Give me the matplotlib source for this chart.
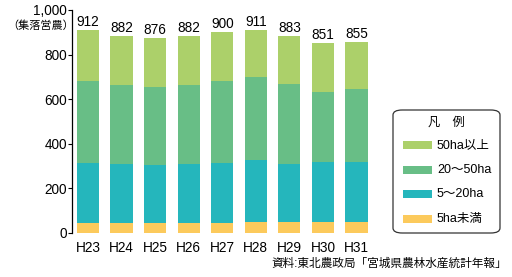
import numpy as np
import matplotlib.pyplot as plt
from matplotlib.patches import FancyBboxPatch, Rectangle

plt.rcParams['font.family'] = ['Liberation Sans', 'Noto Sans CJK JP']

years = ["H23", "H24", "H25", "H26", "H27", "H28", "H29", "H30", "H31"]
under5 = [45, 45, 45, 45, 45, 50, 50, 50, 50]
ha5_20 = [270, 265, 261, 265, 270, 278, 260, 269, 269]
ha20_50 = [368, 355, 350, 355, 365, 373, 360, 315, 325]
over50 = [229, 217, 220, 217, 220, 210, 213, 217, 211]
totals = [912, 882, 876, 882, 900, 911, 883, 851, 855]

labels = ["5ha未満", "5～20ha", "20～50ha", "50ha以上"]
colors = ["#fcca5c", "#25b6bc", "#68be86", "#acd06a"]

W, H = 512, 277
fig = plt.figure(figsize=(W / 100, H / 100), dpi=100, facecolor="white")
ax = fig.add_axes([0.1416, 0.159, 0.59, 0.805])

x = np.arange(len(years))
bottom = np.zeros(len(years))
for vals, col, lab in zip([under5, ha5_20, ha20_50, over50], colors, labels):
    ax.bar(x, vals, width=0.66, bottom=bottom, color=col, label=lab)
    bottom += np.array(vals)

for xi, t in zip(x, totals):
    ax.text(xi, t + 4, str(t), ha="center", va="bottom", fontsize=9.8)

ax.set_xlim(-0.46, 8.54)
ax.set_ylim(0, 1000)
ax.set_yticks([0, 200, 400, 600, 800, 1000])
ax.set_yticklabels(["0", "200", "400", "600", "800", "1,000"], fontsize=9.8)
ax.set_xticks(x)
ax.set_xticklabels(years, fontsize=9.8)
ax.tick_params(axis="x", length=0, pad=6)
ax.tick_params(axis="y", length=3, width=0.8, pad=1)
for s in ["top", "right", "bottom"]:
    ax.spines[s].set_visible(False)
ax.spines["left"].set_linewidth(0.9)

fig.text(0.014, 0.908, "（集落営農）", fontsize=8, ha="left", va="center")


# legend drawn in pixel positions of the reference
def fx(px):
    return px / W


def fy(py):
    return 1 - py / H


box = FancyBboxPatch((fx(393), fy(233)), fx(500) - fx(393), fy(110) - fy(233),
                     boxstyle="round,pad=0,rounding_size=0.018",
                     transform=fig.transFigure, facecolor="white",
                     edgecolor="#333333", linewidth=0.9)
fig.patches.append(box)
fig.text(fx(446), fy(123), "凡　例", fontsize=8.8, ha="center", va="center")
for i, (col, lab) in enumerate(zip(colors[::-1], labels[::-1])):
    yc = 145 + i * 24.6
    fig.patches.append(Rectangle((fx(403), fy(yc + 4)), fx(432) - fx(403), fy(yc - 4) - fy(yc + 4),
                                 transform=fig.transFigure, facecolor=col, edgecolor="none"))
    fig.text(fx(437), fy(yc), lab, fontsize=9, ha="left", va="center")

fig.text(0.99, 0.025, "資料:東北農政局「宮城県農林水産統計年報」", fontsize=8.4,
         ha="right", va="bottom")

fig.savefig("out.png", dpi=100, facecolor="white")
